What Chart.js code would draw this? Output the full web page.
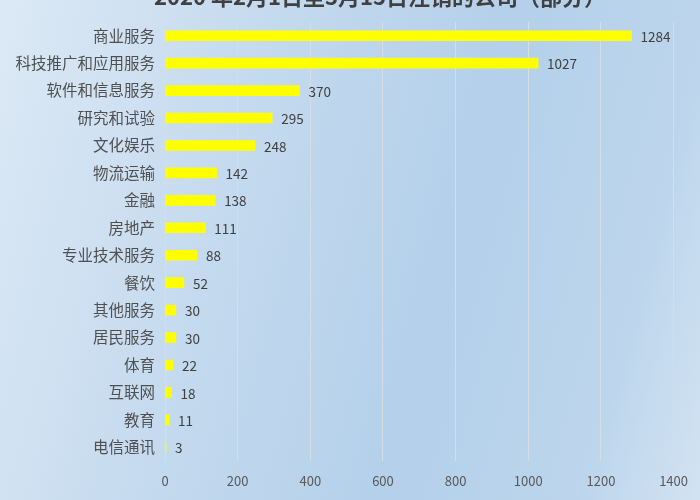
<!DOCTYPE html>
<html>
<head>
<meta charset="utf-8">
<script src="https://cdn.jsdelivr.net/npm/chart.js@4"></script>
<style>
    html, body { margin: 0; padding: 0; }
    body {
        width: 700px; height: 500px; overflow: hidden;
        background: linear-gradient(105deg, #dce9f5 0%, #c3d9ee 35%, #b4d0ea 62%, #bcd5ec 85%, #d2e3f2 100%);
    }
    #box { position: relative; width: 700px; height: 500px; }
</style>
</head>
<body>
<div id="box"><canvas id="grafico" width="700" height="500"></canvas></div>
<script>
// dados do gráfico
const titulo = "2020 年2月1日至3月15日注销的公司（部分）";
const categorias = ["商业服务", "科技推广和应用服务", "软件和信息服务", "研究和试验", "文化娱乐", "物流运输", "金融", "房地产",
    "专业技术服务", "餐饮", "其他服务", "居民服务", "体育", "互联网", "教育", "电信通讯"];
const valores = [1284, 1027, 370, 295, 248, 142, 138, 111, 88, 52, 30, 30, 22, 18, 11, 3];
const eixoX = [0, 200, 400, 600, 800, 1000, 1200, 1400];

const fonte = '"Noto Sans CJK SC", "Noto Sans", sans-serif';

// escreve o valor na ponta de cada barra
const rotulos = {
    id: 'rotulos',
    afterDatasetsDraw(chart) {
        const ctx = chart.ctx;
        const meta = chart.getDatasetMeta(0);
        ctx.save();
        ctx.font = '13.5px ' + fonte;
        ctx.fillStyle = '#404040';
        ctx.textAlign = 'left';
        ctx.textBaseline = 'middle';
        meta.data.forEach((barra, i) => {
            ctx.fillText(String(valores[i]), barra.x + 9, barra.y + 1);
        });
        ctx.restore();
    }
};

// título cortado no topo, como na imagem
const tituloTopo = {
    id: 'tituloTopo',
    afterDraw(chart) {
        const ctx = chart.ctx;
        ctx.save();
        ctx.font = 'bold 22px ' + fonte;
        ctx.fillStyle = '#404040';
        ctx.textAlign = 'center';
        ctx.textBaseline = 'middle';
        ctx.fillText(titulo, 380, -3);
        ctx.restore();
    }
};

new Chart(document.getElementById('grafico'), {
    type: 'bar',
    data: {
        labels: categorias,
        datasets: [{
            data: valores,
            backgroundColor: '#ffff00',
            borderWidth: 0,
            barThickness: 10
        }]
    },
    options: {
        indexAxis: 'y',
        responsive: false,
        animation: false,
        layout: { padding: { top: 22, right: 25, left: 0, bottom: 0 } },
        plugins: { legend: { display: false }, tooltip: { enabled: false } },
        scales: {
            x: {
                min: 0, max: 1400,
                afterBuildTicks(axis) { axis.ticks = eixoX.map(v => ({ value: v })); },
                afterFit(axis) { axis.height = 39; },
                grid: { color: '#d6dde5', lineWidth: 1, drawTicks: false },
                border: { display: false },
                ticks: {
                    color: '#595959', font: { size: 13, family: fonte }, padding: 12,
                    callback: v => String(v)
                }
            },
            y: {
                afterFit(axis) { axis.width = 165; },
                grid: { display: false, drawTicks: false },
                border: { color: '#d6dde5' },
                ticks: { color: '#505050', font: { size: 15.5, family: fonte }, padding: 10 }
            }
        }
    },
    plugins: [rotulos, tituloTopo]
});
</script>
</body>
</html>
